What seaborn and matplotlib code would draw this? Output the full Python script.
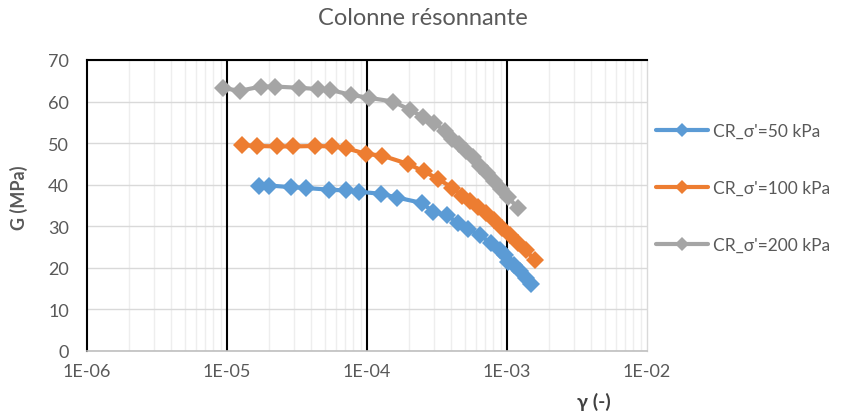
import numpy as np
import pandas as pd
import matplotlib
matplotlib.use("Agg")
import matplotlib.pyplot as plt
import seaborn as sns
from matplotlib.ticker import LogLocator, NullFormatter

# data
gamma_50 = [1.69e-5, 2.0e-5, 2.86e-5, 3.67e-5, 5.35e-5, 7.08e-5, 8.77e-5, 1.26e-4,
            1.64e-4, 2.47e-4, 2.96e-4, 3.73e-4, 4.47e-4, 5.26e-4, 6.41e-4, 7.69e-4,
            8.91e-4, 9.68e-4, 1.02e-3, 1.12e-3, 1.24e-3, 1.37e-3, 1.48e-3]
G_50 = [39.7, 39.8, 39.4, 39.2, 38.8, 38.6, 38.3, 37.8, 36.9, 35.6, 33.5, 32.6,
        30.8, 29.4, 27.8, 26.0, 24.2, 23.0, 21.5, 20.6, 19.3, 17.5, 16.1]

gamma_100 = [1.28e-5, 1.64e-5, 2.28e-5, 2.96e-5, 4.25e-5, 5.62e-5, 7.08e-5, 9.84e-5,
             1.28e-4, 1.96e-4, 2.55e-4, 3.21e-4, 4.05e-4, 4.77e-4, 5.44e-4, 6.21e-4,
             7.08e-4, 8.07e-4, 9.2e-4, 1.05e-3, 1.2e-3, 1.37e-3, 1.58e-3]
G_100 = [49.5, 49.3, 49.2, 49.2, 49.3, 49.2, 48.8, 47.4, 47.0, 45.0, 43.2, 41.4,
         39.3, 37.3, 36.0, 34.6, 33.2, 31.5, 29.6, 27.9, 26.0, 24.2, 21.8]

gamma_200 = [9.36e-6, 1.24e-5, 1.75e-5, 2.2e-5, 3.27e-5, 4.47e-5, 5.44e-5, 7.69e-5,
             1.03e-4, 1.53e-4, 2.03e-4, 2.51e-4, 3.01e-4, 3.61e-4, 4.05e-4, 4.54e-4,
             5.09e-4, 5.71e-4, 6.41e-4, 7.19e-4, 8.07e-4, 9.06e-4, 1.02e-3, 1.2e-3]
G_200 = [63.2, 62.6, 63.6, 63.6, 63.3, 63.0, 62.8, 61.6, 60.9, 60.0, 58.0, 56.3,
         54.8, 53.0, 51.0, 49.8, 48.2, 46.6, 44.6, 42.8, 41.0, 39.0, 37.0, 34.3]

series_names = ["CR_σ'=50 kPa", "CR_σ'=100 kPa", "CR_σ'=200 kPa"]
colors = ["#5B9BD5", "#ED7D31", "#A5A5A5"]
x_ticks = [1e-6, 1e-5, 1e-4, 1e-3, 1e-2]
x_tick_labels = ["1E-06", "1E-05", "1E-04", "1E-03", "1E-02"]
y_ticks = [0, 10, 20, 30, 40, 50, 60, 70]

frames = []
for name, gx, gy in zip(series_names, [gamma_50, gamma_100, gamma_200], [G_50, G_100, G_200]):
    frames.append(pd.DataFrame({"gamma": gx, "G": gy, "serie": name}))
df = pd.concat(frames, ignore_index=True)

sns.set_style("white")
plt.rcParams["font.family"] = ["Lato", "DejaVu Sans"]

fig = plt.figure(figsize=(8.46, 4.14), dpi=100)
ax = fig.add_axes([0.1028, 0.1498, 0.662, 0.703])

# grid first so the curves sit on top
ax.set_xscale("log")
ax.set_xlim(1e-6, 1e-2)
ax.set_ylim(0, 70)
ax.xaxis.set_minor_locator(LogLocator(base=10, subs=np.arange(2, 10)))
ax.xaxis.set_minor_formatter(NullFormatter())
ax.grid(which="minor", axis="x", color="#eeeeee", lw=1)
ax.grid(which="major", axis="y", color="#d9d9d9", lw=1)
for xv in x_ticks[1:-1]:
    ax.axvline(xv, color="black", lw=1.5, zorder=1)
ax.set_axisbelow(True)

sns.lineplot(data=df, x="gamma", y="G", hue="serie", palette=colors, style="serie",
             markers=["D", "D", "D"], dashes=False, sort=False, estimator=None,
             lw=3, markersize=9, markeredgewidth=0, ax=ax, zorder=3)

ax.set_xticks(x_ticks)
ax.set_xticklabels(x_tick_labels)
ax.set_yticks(y_ticks)
ax.tick_params(which="both", length=0, labelsize=13, labelcolor="#595959")
ax.tick_params(axis="x", pad=9)
ax.tick_params(axis="y", pad=13)

ax.spines["left"].set_color("black")
ax.spines["left"].set_linewidth(1.5)
ax.spines["top"].set_color("black")
ax.spines["top"].set_linewidth(1.5)
ax.spines["bottom"].set_color("#bfbfbf")
ax.spines["bottom"].set_linewidth(1.2)
ax.spines["right"].set_color("#d9d9d9")
ax.spines["right"].set_linewidth(1)

ax.set_ylabel("G (MPa)", fontsize=13, fontweight="bold", color="#595959")
ax.yaxis.set_label_coords(-0.105, 0.53)
ax.set_xlabel("γ (-)", fontsize=14, fontweight="bold", color="#404040")
ax.xaxis.set_label_coords(0.905, -0.14)

fig.suptitle("Colonne résonnante", x=0.5, y=0.98, fontsize=17, color="#595959")

leg = ax.legend(loc="center left", bbox_to_anchor=(1.0, 0.56), frameon=False,
                fontsize=12.5, handlelength=3.0, labelspacing=2.35, handletextpad=0.3,
                borderaxespad=0.2, borderpad=0.3, markerscale=0.8)
for t in leg.get_texts():
    t.set_color("#595959")

fig.savefig("out.png", dpi=100)
